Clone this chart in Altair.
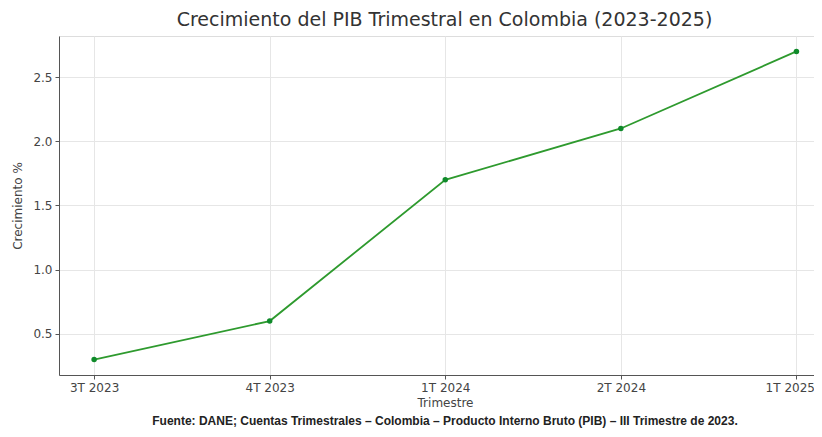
import altair as alt
import pandas as pd

trimestres = ["3T 2023", "4T 2023", "1T 2024", "2T 2024", "1T 2025"]
crecimiento = [0.3, 0.6, 1.7, 2.1, 2.7]
y_ticks = [0.5, 1.0, 1.5, 2.0, 2.5]
titulo = "Crecimiento del PIB Trimestral en Colombia (2023-2025)"
fuente = ["Fuente: DANE; Cuentas Trimestrales – Colombia – Producto Interno Bruto (PIB) – III Trimestre de 2023."]

df = pd.DataFrame({"idx": list(range(len(trimestres))), "trimestre": trimestres, "crec": crecimiento})
label_expr = "[" + ",".join("'" + t + "'" for t in trimestres) + "][datum.value]"
last = len(trimestres) - 1

FONT = "DejaVu Sans"
W, H = 755, 339

x = alt.X("idx:Q", scale=alt.Scale(domain=[-0.2, 4.1], nice=False, zero=False),
          axis=alt.Axis(values=list(range(len(trimestres))), labelExpr=label_expr,
                        labelAlign={"condition": {"test": f"datum.value == {last}", "value": "right"}, "value": "center"},
                        labelOffset={"condition": {"test": f"datum.value == {last}", "value": 18}, "value": 0},
                        title="Trimestre", titleX=386, titlePadding=4,
                        labelFontSize=12, labelColor="#444", labelPadding=3,
                        titleFontSize=12, titleFontWeight="normal", titleColor="#444",
                        tickSize=4, tickColor="#555", domainColor="#555",
                        gridColor="#e6e6e6", labelFont=FONT, titleFont=FONT))
y = alt.Y("crec:Q", scale=alt.Scale(domain=[0.18, 2.82], nice=False, zero=False),
          axis=alt.Axis(values=y_ticks, format=".1f", title="Crecimiento %",
                        labelFontSize=12, labelColor="#444", labelPadding=3,
                        titleFontSize=12, titleFontWeight="normal", titleColor="#444",
                        titlePadding=8,
                        tickSize=4, tickColor="#555", domainColor="#555",
                        gridColor="#e6e6e6", labelFont=FONT, titleFont=FONT))

base = alt.Chart(df)
line = base.mark_line(color="#2e9a2e", strokeWidth=1.8).encode(x=x, y=y)
pts = base.mark_circle(color="#0f8a2a", size=30, opacity=1).encode(x=x, y=y)

src = alt.Chart(pd.DataFrame({"t": fuente})).mark_text(
    font="Liberation Sans", fontSize=12, fontWeight="bold", color="#222",
    align="center", baseline="middle").encode(
    text="t:N", x=alt.value(386), y=alt.value(385))

chart = alt.layer(line, pts, src).properties(
    width=W, height=H,
    title=alt.TitleParams(titulo, font=FONT, fontSize=19, fontWeight="normal",
                          color="#333", anchor="middle", dx=8, offset=6),
    autosize=alt.AutoSizeParams(type="none"),
    padding={"left": 51, "top": 28, "right": 0, "bottom": 54},
).configure_view(stroke=None).configure(background="white")

chart.save("out.html", embed_options={"renderer": "svg", "actions": False})
